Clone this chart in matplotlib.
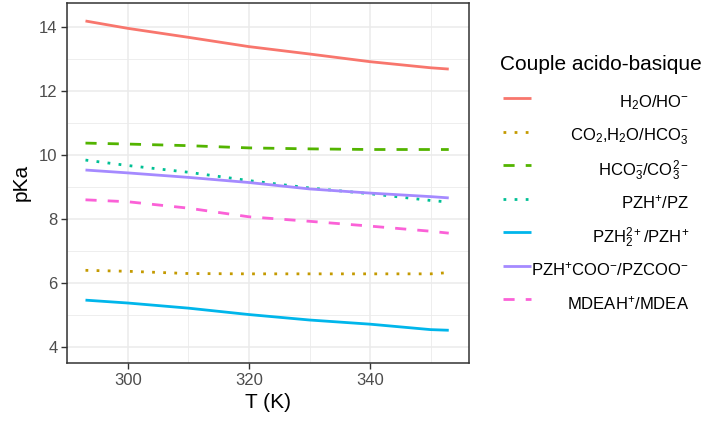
import matplotlib
matplotlib.use("Agg")
import matplotlib.pyplot as plt
from matplotlib.lines import Line2D
from matplotlib.ticker import MultipleLocator

plt.rcParams['font.family'] = ['Liberation Sans', 'DejaVu Sans']
plt.rcParams['mathtext.fontset'] = 'custom'
plt.rcParams['mathtext.rm'] = 'Liberation Sans'
plt.rcParams['mathtext.it'] = 'Liberation Sans:italic'
plt.rcParams['mathtext.bf'] = 'Liberation Sans:bold'

T = [293, 300, 310, 320, 330, 340, 350, 353]
h2o = [14.18, 13.95, 13.67, 13.38, 13.15, 12.91, 12.72, 12.68]
co2 = [6.40, 6.37, 6.30, 6.29, 6.29, 6.29, 6.29, 6.33]
hco3 = [10.37, 10.34, 10.29, 10.22, 10.19, 10.17, 10.17, 10.17]
pzh = [9.84, 9.67, 9.46, 9.20, 8.97, 8.79, 8.58, 8.53]
pzh2 = [5.47, 5.38, 5.22, 5.02, 4.85, 4.72, 4.55, 4.53]
pzcoo = [9.53, 9.44, 9.30, 9.14, 8.94, 8.81, 8.70, 8.66]
mdea = [8.60, 8.54, 8.34, 8.07, 7.93, 7.78, 7.62, 7.56]

labels = [r'H$_2$O/HO$^{-}$', r'CO$_2$,H$_2$O/HCO$_3^{-}$', r'HCO$_3^{-}$/CO$_3^{2-}$',
          r'PZH$^{+}$/PZ', r'PZH$_2^{2+}$/PZH$^{+}$', r'PZH$^{+}$COO$^{-}$/PZCOO$^{-}$',
          r'MDEAH$^{+}$/MDEA']
series = [h2o, co2, hco3, pzh, pzh2, pzcoo, mdea]
colors = ['#F8766D', '#C49A00', '#53B400', '#00C094', '#00B6EB', '#A58AFF', '#FB61D7']
styles = ['-', (0, (1, 3)), (0, (4, 4)), (0, (1, 3)), '-', '-', (0, (4, 4))]

fig = plt.figure(figsize=(7.08, 4.25), dpi=100)
ax = fig.add_axes([0.0951, 0.146, 0.5678, 0.8476])
lw = 2.0
for y, c, ls in zip(series, colors, styles):
    ax.plot(T, y, color=c, linestyle=ls, lw=lw, solid_capstyle='butt', dash_capstyle='butt', zorder=3)

ax.set_xlim(290.0, 356.4)
ax.set_ylim(3.51, 14.75)
ax.xaxis.set_major_locator(MultipleLocator(20))
ax.xaxis.set_minor_locator(MultipleLocator(10))
ax.yaxis.set_major_locator(MultipleLocator(2))
ax.yaxis.set_minor_locator(MultipleLocator(1))
ax.grid(which='major', color='#EBEBEB', lw=1.1, zorder=0)
ax.grid(which='minor', color='#EBEBEB', lw=0.6, zorder=0)
ax.set_axisbelow(True)
for s in ax.spines.values():
    s.set_color('#333333')
    s.set_linewidth(1.1)
ax.tick_params(which='major', length=4, width=1.0, color='#333333', labelcolor='#4D4D4D', labelsize=12, pad=3)
ax.tick_params(which='minor', length=0)
ax.set_xlabel('T (K)', fontsize=15, color='black', labelpad=4)
ax.set_ylabel('pKa', fontsize=15, color='black', labelpad=6)

# Legend
W, H = 708, 425
fig.text(500 / W, 1 - 65 / H, 'Couple acido-basique', fontsize=15, ha='left', va='center')
for i, (lab, c, ls) in enumerate(zip(labels, colors, styles)):
    yk = 98.3 + 33.5 * i
    fig.add_artist(Line2D([503 / W, 531 / W], [1 - yk / H, 1 - yk / H], color=c, linestyle=ls,
                          lw=lw, solid_capstyle='butt', dash_capstyle='butt', transform=fig.transFigure))
    fig.text(689 / W, 1 - (yk + 2) / H, lab, fontsize=12, ha='right', va='center_baseline', color='black')

fig.savefig('out.png', dpi=100)
